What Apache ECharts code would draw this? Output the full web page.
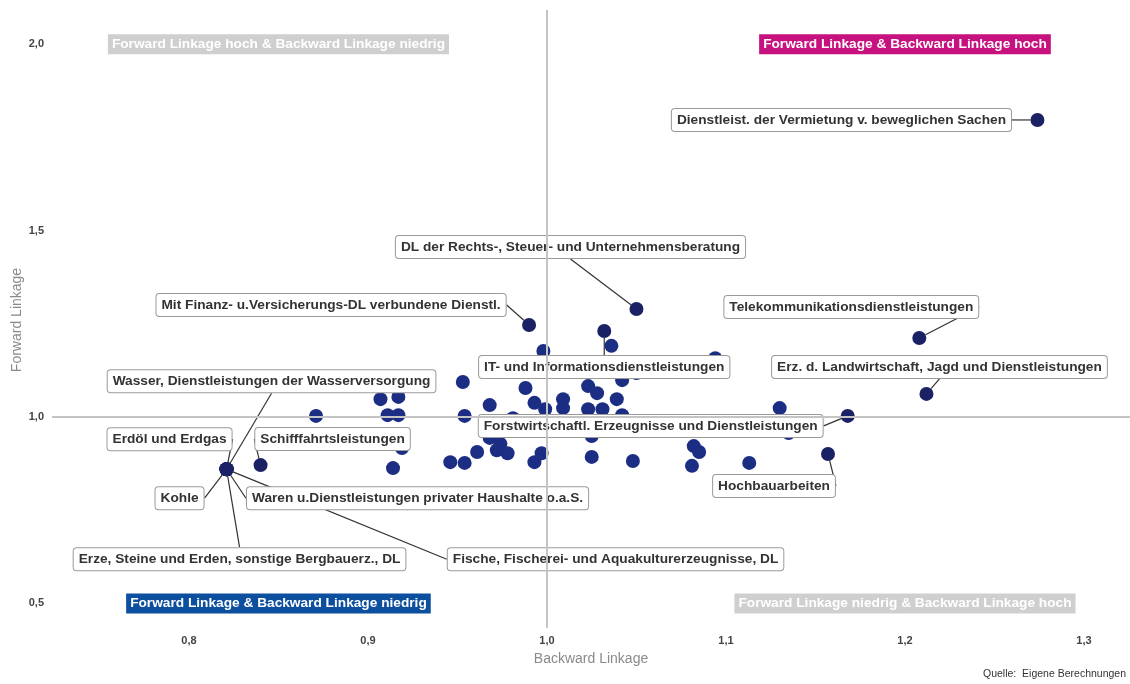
<!DOCTYPE html>
<html>
<head>
<meta charset="utf-8">
<script src="https://cdn.jsdelivr.net/npm/echarts@6/dist/echarts.min.js"></script>
<style>
html,body{margin:0;padding:0;background:#fff;}
#chart{width:1130px;height:684px;}
</style>
</head>
<body>
<div id="chart"></div>
<script>
// ---- data ----
const labeledNames = [
  'Dienstleist. der Vermietung v. beweglichen Sachen',
  'DL der Rechts-, Steuer- und Unternehmensberatung',
  'Mit Finanz- u.Versicherungs-DL verbundene Dienstl.',
  'Telekommunikationsdienstleistungen',
  'IT- und Informationsdienstleistungen',
  'Erz. d. Landwirtschaft, Jagd und Dienstleistungen',
  'Forstwirtschaftl. Erzeugnisse und Dienstleistungen',
  'Hochbauarbeiten',
  'Schifffahrtsleistungen',
  'Wasser, Dienstleistungen der Wasserversorgung',
  'Erdöl und Erdgas',
  'Kohle',
  'Waren u.Dienstleistungen privater Haushalte o.a.S.',
  'Erze, Steine und Erden, sonstige Bergbauerz., DL',
  'Fische, Fischerei- und Aquakulturerzeugnisse, DL'
];
const labeledBackward = [1.274, 1.050, 0.990, 1.208, 1.032, 1.212, 1.168, 1.157, 0.840, 0.821, 0.821, 0.821, 0.821, 0.821, 0.821];
const labeledForward  = [1.797, 1.290, 1.247, 1.212, 1.231, 1.062, 1.003, 0.901, 0.871, 0.860, 0.860, 0.860, 0.860, 0.860, 0.860];

const otherBackward = [0.871, 0.907, 0.917, 0.911, 0.917, 0.912, 0.919, 0.914, 0.953, 0.954,
                       0.988, 0.968, 0.993, 0.999, 0.981, 0.968, 0.974, 0.972, 0.978, 0.961,
                       0.946, 0.954, 0.993, 0.997, 0.998, 1.036, 1.009, 1.009, 1.023, 1.028,
                       1.023, 1.031, 1.042, 1.039, 1.042, 1.050, 1.025, 1.025, 1.048, 1.094,
                       1.130, 1.135, 1.082, 1.085, 1.081, 1.113];
const otherForward  = [1.003, 1.048, 1.054, 1.005, 1.005, 0.930, 0.917, 0.863, 1.094, 1.003,
                       1.078, 1.032, 1.038, 1.021, 0.997, 0.944, 0.928, 0.911, 0.903, 0.906,
                       0.879, 0.877, 0.879, 0.903, 1.177, 1.191, 1.048, 1.024, 1.083, 1.064,
                       1.021, 1.021, 1.099, 1.048, 1.005, 1.118, 0.949, 0.893, 0.882, 1.158,
                       1.024, 0.957, 0.922, 0.906, 0.869, 0.877];

const quadrantTexts = [
  'Forward Linkage hoch & Backward Linkage niedrig',
  'Forward Linkage & Backward Linkage hoch',
  'Forward Linkage & Backward Linkage niedrig',
  'Forward Linkage niedrig & Backward Linkage hoch'
];
const quadrantX = [0.85, 1.2, 0.85, 1.2];
const quadrantY = [2.0, 2.0, 0.5, 0.5];
const quadrantColors = ['#cfcfcf', '#c6117e', '#0c4f9f', '#cfcfcf'];

const xTicks = [0.8, 0.9, 1.0, 1.1, 1.2, 1.3];
const yTicks = [0.5, 1.0, 1.5, 2.0];
const xAxisTitle = 'Backward Linkage';
const yAxisTitle = 'Forward Linkage';

// label offsets (pixels, label centre relative to point) - layout only
const labelOffsets = [
  [-196, 0], [-66, -62], [-198, -20], [-68, -31], [0, 36], [13, -27], [-197, 10],
  [-54, 32], [72, -26], [45, -88], [-57, -30], [-47, 29], [191, 29], [13, 90], [389, 90]
];

const fmt = v => v.toFixed(1).replace('.', ',');
const FONT = 'Liberation Sans, Arial, sans-serif';

const chart = echarts.init(document.getElementById('chart'), null, {renderer: 'canvas'});

const labeledData = labeledNames.map((n, i) => ({name: n, value: [labeledBackward[i], labeledForward[i]]}));
const otherData = otherBackward.map((x, i) => [x, otherForward[i]]);
const quadData = quadrantTexts.map((t, i) => ({
  name: t,
  value: [quadrantX[i], quadrantY[i]],
  label: {backgroundColor: quadrantColors[i]}
}));

chart.setOption({
  animation: false,
  backgroundColor: '#fff',
  grid: {left: 52, right: 0, top: 10, bottom: 56, containLabel: false, outerBoundsMode: 'none'},
  xAxis: {
    type: 'value', min: 0.7235, max: 1.3257,
    name: xAxisTitle, nameLocation: 'middle', nameGap: 24,
    nameTextStyle: {color: '#8a8a8a', fontSize: 14, fontFamily: FONT},
    axisLine: {show: false}, axisTick: {show: false}, splitLine: {show: false},
    axisLabel: {customValues: xTicks, formatter: fmt, color: '#444', fontSize: 11, fontWeight: 'bold', fontFamily: FONT, margin: 7}
  },
  yAxis: {
    type: 'value', min: 0.434, max: 2.092,
    axisLine: {show: false}, axisTick: {show: false}, splitLine: {show: false},
    axisLabel: {customValues: yTicks, formatter: fmt, color: '#444', fontSize: 11, fontWeight: 'bold', fontFamily: FONT, margin: 8}
  },
  series: [
    {
      type: 'scatter', z: 1, data: [], silent: true,
      markLine: {
        silent: true, symbol: 'none', label: {show: false},
        lineStyle: {color: '#c4c4c4', width: 2, type: 'solid'},
        emphasis: {disabled: true},
        data: [{xAxis: 1}, {yAxis: 1}]
      }
    },
    {
      type: 'scatter', z: 3, symbolSize: 14, silent: true,
      itemStyle: {color: '#1c2d84', opacity: 1},
      data: otherData
    },
    {
      type: 'scatter', z: 4, symbolSize: 14, silent: true,
      itemStyle: {color: '#1a2164', opacity: 1},
      data: labeledData,
      label: {
        show: true, position: 'inside', formatter: '{b}',
        color: '#333', fontSize: 13.7, fontWeight: 'bold', fontFamily: FONT,
        backgroundColor: '#fff', borderColor: '#9a9a9a', borderWidth: 1, borderRadius: 3,
        padding: [3, 5, 3, 5], lineHeight: 16
      },
      labelLine: {show: true, lineStyle: {color: '#333', width: 1.2}},
      labelLayout: function (p) {
        const o = labelOffsets[p.dataIndex];
        return {dx: o[0], dy: o[1]};
      }
    },
    {
      type: 'scatter', z: 5, symbolSize: 0, silent: true,
      itemStyle: {opacity: 1},
      data: quadData,
      label: {
        show: true, position: 'inside', formatter: '{b}', opacity: 1,
        color: '#fff', fontSize: 13.7, fontWeight: 'bold', fontFamily: FONT,
        padding: [3, 4, 2, 4], lineHeight: 15
      }
    }
  ],
  graphic: [
    {
      type: 'text', x: 17, y: 320, rotation: Math.PI / 2,
      style: {text: yAxisTitle, fill: '#8a8a8a', fontSize: 14, fontFamily: FONT, align: 'center', verticalAlign: 'middle'}
    },
    {
      type: 'text', left: 983, top: 669,
      style: {text: 'Quelle:  Eigene Berechnungen', fill: '#333', fontSize: 10.5, fontFamily: FONT}
    }
  ]
});
</script>
</body>
</html>
